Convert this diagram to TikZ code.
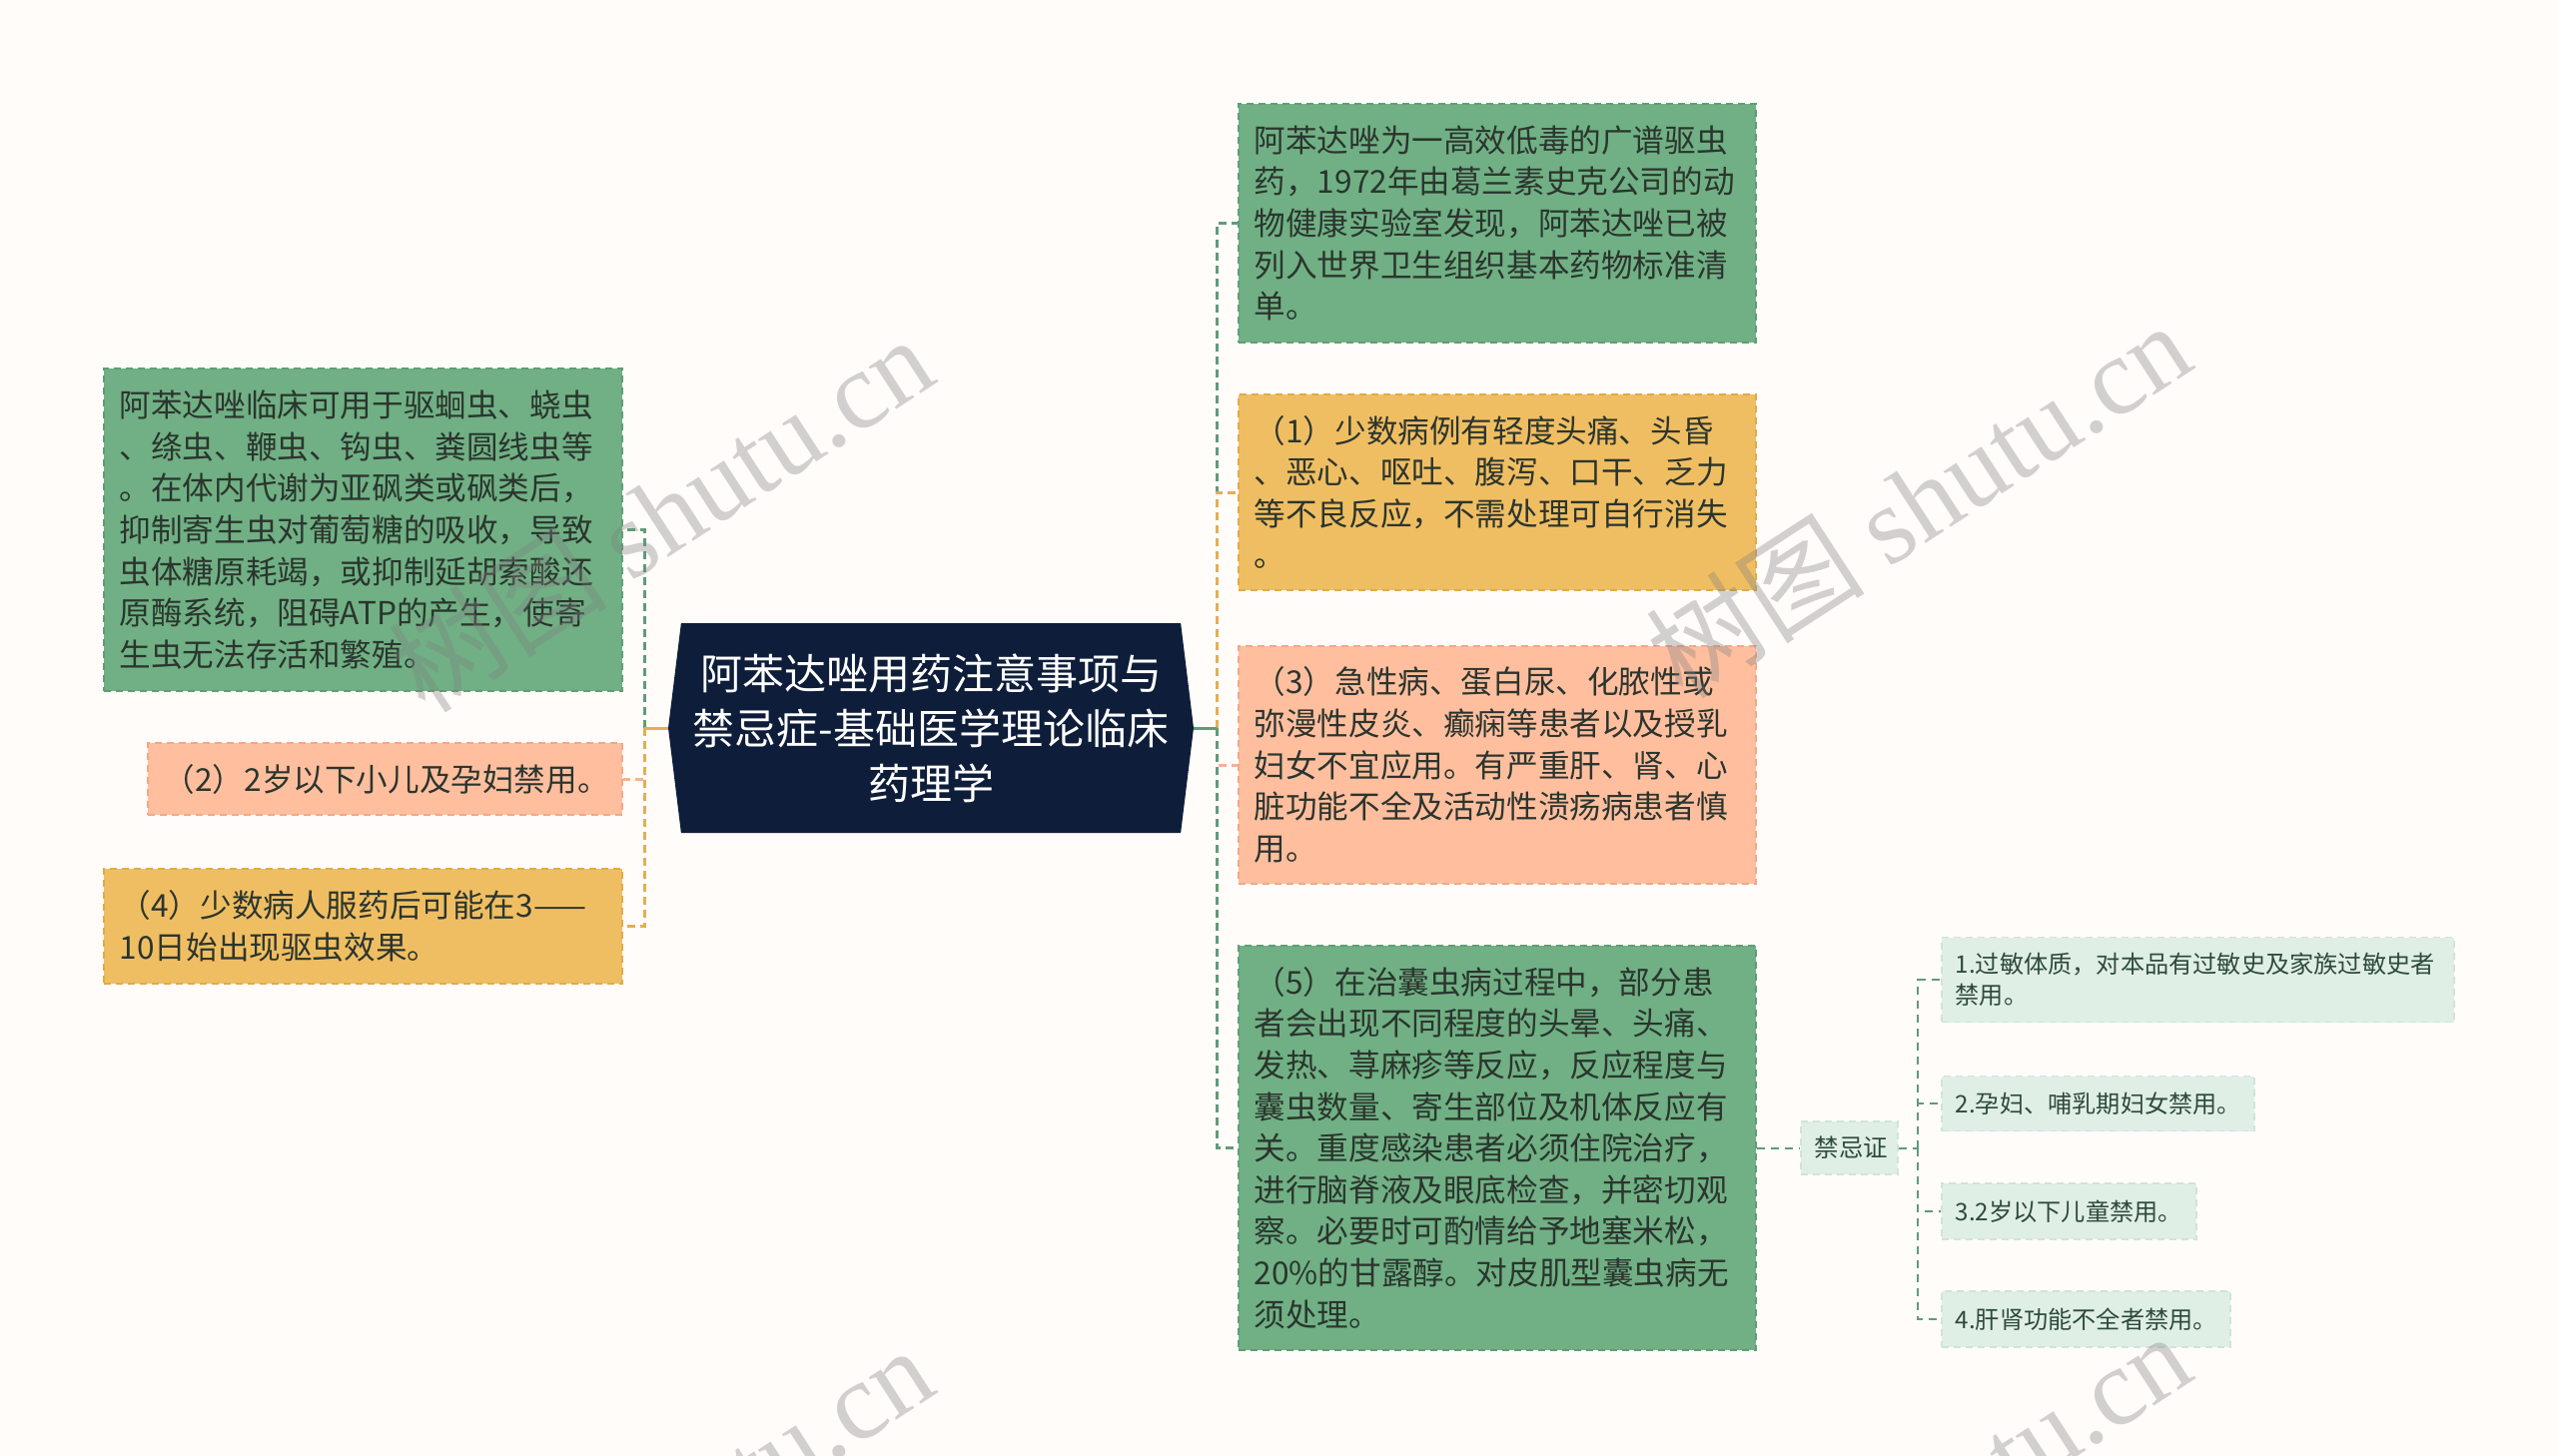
\documentclass[tikz,border=0pt]{standalone}
\usepackage{fontspec}
\setmainfont{Noto Sans CJK SC}
\newfontfamily\markfont{Liberation Serif}
\usepackage{tikz}
\usetikzlibrary{shapes.symbols,positioning}
\definecolor{paper}{HTML}{FFFCFA}
\definecolor{titlenavy}{HTML}{0E1E3A}
\definecolor{leafgreen}{HTML}{70B084}
\definecolor{leafgreenedge}{HTML}{5E9E74}
\definecolor{sunorange}{HTML}{F0BE62}
\definecolor{sunorangeedge}{HTML}{E2AA48}
\definecolor{peach}{HTML}{FFBF9F}
\definecolor{peachedge}{HTML}{F2A886}
\definecolor{mint}{HTML}{E0EFE6}
\definecolor{mintedge}{HTML}{CFE4D8}
\definecolor{inkdark}{HTML}{2B352E}
\definecolor{inkgreen}{HTML}{2E4A3A}
\definecolor{linkgreen}{HTML}{5F9C78}
\definecolor{linkorange}{HTML}{E3AF52}
\definecolor{linkpeach}{HTML}{F4B393}

\begin{document}
\begin{tikzpicture}[x=1pt, y=-1pt,
    box/.style={draw, dash pattern=on 7pt off 5pt, line width=1.5pt, anchor=west,
        align=left, inner xsep=16pt, inner ysep=0pt, text=inkdark,
        font=\fontsize{31.6}{41.6}\selectfont},
    greenbox/.style={box, fill=leafgreen, draw=leafgreenedge},
    orangebox/.style={box, fill=sunorange, draw=sunorangeedge},
    peachbox/.style={box, fill=peach, draw=peachedge},
    mintbox/.style={box, fill=mint, draw=mintedge, inner xsep=14pt, text=inkgreen,
        font=\fontsize{24.2}{31}\selectfont},
    link/.style={dash pattern=on 8pt off 5pt, line width=3pt},
    stub/.style={line width=3pt},
    leaflink/.style={dash pattern=on 8pt off 6pt, line width=2pt, draw=linkgreen}]

    % Page
    \useasboundingbox (0,0) rectangle (2560,1458);
    \clip (0,0) rectangle (2560,1458);
    \fill[paper] (0,0) rectangle (2560,1458);

    % Title
    \node[signal, signal to=east and west, signal pointer angle=166, fill=titlenavy,
        text=white, align=center, minimum width=526pt, minimum height=210pt,
        inner sep=0pt, font=\fontsize{42}{55}\selectfont] (title) at (932,729)
        {阿苯达唑用药注意事项与\\禁忌症-基础医学理论临床\\药理学};

    % Left branches
    \node[greenbox, text width=487pt, minimum height=323pt] (usage) at (103,530.5)
        {阿苯达唑临床可用于驱蛔虫、蛲虫\\
         、绦虫、鞭虫、钩虫、粪圆线虫等\\
         。在体内代谢为亚砜类或砜类后，\\
         抑制寄生虫对葡萄糖的吸收，导致\\
         虫体糖原耗竭，或抑制延胡索酸还\\
         原酶系统，阻碍ATP的产生，使寄\\
         生虫无法存活和繁殖。};
    \node[peachbox, text width=443pt, minimum height=72pt] (infant) at (147,780)
        {（2）2岁以下小儿及孕妇禁用。};
    \node[orangebox, text width=487pt, minimum height=115pt] (onset) at (103,927.5)
        {（4）少数病人服药后可能在3——\\10日始出现驱虫效果。};

    % Right branches
    \node[greenbox, text width=486pt, minimum height=239pt] (intro) at (1239,223.5)
        {阿苯达唑为一高效低毒的广谱驱虫\\
         药，1972年由葛兰素史克公司的动\\
         物健康实验室发现，阿苯达唑已被\\
         列入世界卫生组织基本药物标准清\\
         单。};
    \node[orangebox, text width=486pt, minimum height=196pt] (sidefx) at (1239,493)
        {（1）少数病例有轻度头痛、头昏\\
         、恶心、呕吐、腹泻、口干、乏力\\
         等不良反应，不需处理可自行消失\\
         。};
    \node[peachbox, text width=486pt, minimum height=238pt] (caution) at (1239,766)
        {（3）急性病、蛋白尿、化脓性或\\
         弥漫性皮炎、癫痫等患者以及授乳\\
         妇女不宜应用。有严重肝、肾、心\\
         脏功能不全及活动性溃疡病患者慎\\
         用。};
    \node[greenbox, text width=486pt, minimum height=405pt] (cyst) at (1239,1149.5)
        {（5）在治囊虫病过程中，部分患\\
         者会出现不同程度的头晕、头痛、\\
         发热、荨麻疹等反应，反应程度与\\
         囊虫数量、寄生部位及机体反应有\\
         关。重度感染患者必须住院治疗，\\
         进行脑脊液及眼底检查，并密切观\\
         察。必要时可酌情给予地塞米松，\\
         20\%的甘露醇。对皮肌型囊虫病无\\
         须处理。};

    % Contraindications
    \node[mintbox, align=center, text width=69pt, minimum height=53pt,
        font=\fontsize{24.5}{30}\selectfont] (contra) at (1802,1149.5) {禁忌证};
    \node[mintbox, text width=485pt, minimum height=85pt] (allergy) at (1943,981)
        {1.过敏体质，对本品有过敏史及家族过敏史者\\禁用。};
    \node[mintbox, text width=285pt, minimum height=55pt] (pregnant) at (1943,1105)
        {2.孕妇、哺乳期妇女禁用。};
    \node[mintbox, text width=227pt, minimum height=56pt] (child) at (1943,1213)
        {3.2岁以下儿童禁用。};
    \node[mintbox, text width=261pt, minimum height=56pt] (organ) at (1943,1321)
        {4.肝肾功能不全者禁用。};

    % Connectors
    \coordinate (lspine) at (645,729);
    \coordinate (rspine) at (1218,729);
    \coordinate (cspine) at (1920,1149.5);

    \draw[link, draw=linkgreen] (lspine) |- (usage.east);
    \draw[link, draw=linkpeach] (lspine) |- (infant.east);
    \draw[link, draw=linkorange] (lspine) |- (onset.east);
    \draw[stub, draw=linkorange] (title.west) -- (lspine);

    \draw[link, draw=linkgreen] (rspine) |- (intro.west);
    \draw[link, draw=linkorange] (rspine) |- (sidefx.west);
    \draw[link, draw=linkpeach] (rspine) |- (caution.west);
    \draw[link, draw=linkgreen] (rspine) |- (cyst.west);
    \draw[stub, draw=linkgreen] (title.east) -- (rspine);

    \draw[leaflink] (cyst.east) -- (contra.west);
    \draw[leaflink] (contra.east) -- (cspine);
    \foreach \leaf in {allergy,pregnant,child,organ}
        \draw[leaflink] (cspine) |- (\leaf.west);

    % Watermarks
    \begin{scope}[opacity=0.35]
        \foreach \mx/\my in {661/514, 1920/500, 661/1526, 1920/1512}
            \node[rotate=33, text=gray, font=\fontsize{110}{110}\selectfont]
                (mark-\mx-\my) at (\mx,\my) {树图 {\markfont shutu.cn}};
    \end{scope}
\end{tikzpicture}
\end{document}
